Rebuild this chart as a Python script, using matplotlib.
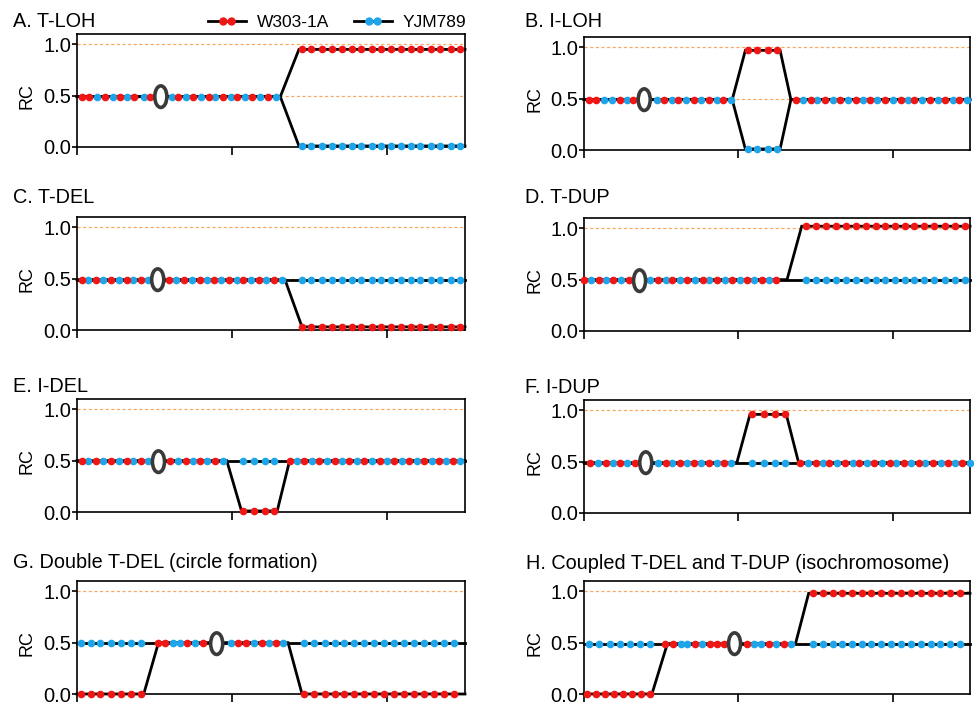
import matplotlib.pyplot as plt
from matplotlib.lines import Line2D
from matplotlib.patches import Ellipse
from matplotlib.path import Path

plt.rcParams['font.family'] = ['Liberation Sans', 'DejaVu Sans']

RED = '#f01616'
BLUE = '#1ea5e9'
W, H = 974, 704

titles = ['A. T-LOH', 'B. I-LOH', 'C. T-DEL', 'D. T-DUP', 'E. I-DEL', 'F. I-DUP',
          'G. Double T-DEL (circle formation)',
          'H. Coupled T-DEL and T-DUP (isochromosome)']
strains = ['W303-1A', 'YJM789']

# x positions in kb along the chromosome (0-250), RC = relative coverage

# A. T-LOH
a_w303_x = [3, 8, 18, 28, 37, 47, 65, 75, 85, 94, 103, 113, 123,
            145, 151, 158, 164, 171, 177, 183, 190, 196, 202, 209, 215, 221, 228, 234, 241, 247]
a_w303_rc = [0.49] * 13 + [0.95] * 17
a_yjm_x = [13, 23, 32, 43, 61, 70, 80, 89, 99, 108, 118, 128,
           145, 151, 158, 164, 171, 177, 183, 190, 196, 202, 209, 215, 221, 228, 234, 241, 247]
a_yjm_rc = [0.49] * 12 + [0.01] * 17
a_w303_line = ([0, 131, 143, 250], [0.49, 0.49, 0.95, 0.95])
a_yjm_line = ([0, 131, 143, 250], [0.49, 0.49, 0.01, 0.01])
a_cen = 54

# B. I-LOH
b_w303_x = [3, 8, 23, 32, 52, 61, 71, 81, 90,
            106, 112, 119, 125,
            137, 147, 156, 166, 176, 185, 195, 205, 214, 224, 234, 243]
b_w303_rc = [0.49] * 9 + [0.97] * 4 + [0.49] * 12
b_yjm_x = [13, 18, 28, 47, 57, 66, 76, 86, 95,
           106, 112, 119, 125,
           142, 151, 161, 171, 181, 190, 200, 210, 219, 229, 239, 248]
b_yjm_rc = [0.49] * 9 + [0.01] * 4 + [0.49] * 12
b_w303_line = ([0, 96, 104.5, 127, 134, 250], [0.49, 0.49, 0.97, 0.97, 0.49, 0.49])
b_yjm_line = ([0, 96, 104.5, 127, 134, 250], [0.49, 0.49, 0.01, 0.01, 0.49, 0.49])
b_cen = 39

# C. T-DEL
c_w303_x = [3, 12, 22, 32, 41, 59, 69, 79, 88, 98, 107, 117, 127,
            145, 151, 158, 164, 171, 177, 183, 190, 196, 202, 209, 215, 221, 228, 234, 241, 247]
c_w303_rc = [0.49] * 13 + [0.03] * 17
c_yjm_x = [7, 17, 27, 36, 46, 64, 74, 84, 93, 103, 112, 122, 132,
           145, 151, 158, 164, 171, 177, 183, 190, 196, 202, 209, 215, 221, 228, 234, 241, 247]
c_yjm_rc = [0.49] * 30
c_w303_line = ([0, 134, 145, 250], [0.49, 0.49, 0.03, 0.03])
c_yjm_line = ([0, 250], [0.49, 0.49])
c_cen = 52

# D. T-DUP
d_w303_x = [0, 9.5, 19, 29, 48, 57, 67, 77, 86, 96, 105.5, 115, 124.5,
            144, 150.5, 157, 163, 170, 176, 182.5, 189, 195, 201.5, 208, 214, 220.5, 227, 233.5, 240, 247]
d_w303_rc = [0.5] * 13 + [1.02] * 17
d_yjm_x = [4.5, 14, 24, 43, 53, 62, 72, 81, 91, 101, 110, 120,
           144, 150.5, 157, 163, 170, 176, 182.5, 189, 195, 201.5, 208, 214, 220.5, 227, 233.5, 240, 247]
d_yjm_rc = [0.5] * 29
d_w303_line = ([0, 131.5, 141, 250], [0.5, 0.5, 1.02, 1.02])
d_yjm_line = ([0, 250], [0.5, 0.5])
d_cen = 36

# E. I-DEL
e_w303_x = [3, 12, 22, 32, 41, 60, 70, 79, 89,
            107, 114, 121, 127,
            137, 146.5, 156, 166, 175.5, 185, 195, 204.5, 214, 223.5, 233, 242]
e_w303_rc = [0.5] * 9 + [0.01] * 4 + [0.5] * 12
e_yjm_x = [7, 17, 27, 36, 46, 65, 75, 84, 94,
           107, 114, 121, 127,
           141.5, 151.5, 161, 170.5, 180.5, 190, 199.5, 209.5, 219, 228.5, 238, 246.5]
e_yjm_rc = [0.5] * 25
e_w303_line = ([0, 96.5, 106, 129, 137, 250], [0.5, 0.5, 0.01, 0.01, 0.5, 0.5])
e_yjm_line = ([0, 250], [0.5, 0.5])
e_cen = 52.5

# F. I-DUP
f_w303_x = [4, 14, 23.5, 33, 53, 62, 71, 81, 90.5,
            109, 116.5, 123.5, 130,
            140, 150, 159, 169, 178, 188, 198, 207, 217, 226, 236, 245]
f_w303_rc = [0.49] * 9 + [0.96] * 4 + [0.49] * 12
f_yjm_x = [9, 18.5, 28, 48, 57, 67, 76, 86, 95,
           109, 116.5, 123.5, 130,
           145, 155, 164, 174, 183, 193, 202, 212, 221, 231, 240, 250]
f_yjm_rc = [0.49] * 25
f_w303_line = ([0, 99, 107.5, 131, 139, 250], [0.49, 0.49, 0.96, 0.96, 0.49, 0.49])
f_yjm_line = ([0, 250], [0.49, 0.49])
f_cen = 40

# G. Double T-DEL
g_w303_x = [2.5, 9, 15, 22, 28.5, 35, 41.5,
            52.5, 57, 71, 81, 104, 109, 119, 128,
            146.5, 153, 159.5, 166, 172, 178.5, 185, 191.5, 198, 204.5, 210.5, 217, 223.5, 230, 236.5, 243]
g_w303_rc = [0.0] * 7 + [0.5] * 8 + [0.0] * 16
g_yjm_x = [2.5, 9, 15, 22, 28.5, 35, 41.5,
           62, 66.5, 76, 99, 114, 123.5, 133,
           146.5, 153, 159.5, 166, 172, 178.5, 185, 191.5, 198, 204.5, 210.5, 217, 223.5, 230, 236.5, 243]
g_yjm_rc = [0.5] * 30
g_w303_line = ([0, 43, 52.5, 136, 145, 250], [0, 0, 0.5, 0.5, 0, 0])
g_yjm_line = ([0, 250], [0.5, 0.5])
g_cen = 90

# H. Coupled T-DEL and T-DUP
h_w303_x = [2, 8, 13.5, 19.5, 25.5, 31, 37, 43,
            52.5, 57.5, 72, 81.5, 86, 90.5, 105.5, 119.5, 129.5,
            148, 154.5, 161, 167, 173.5, 180, 186, 192.5, 199, 205.5, 211.5, 218, 224.5, 230.5, 237, 243.5]
h_w303_rc = [0.0] * 8 + [0.49] * 9 + [0.98] * 16
h_yjm_x = [3.5, 10, 17, 23.5, 30, 36.5, 43,
           62.5, 67, 76.5, 110, 114.5, 124.5, 134,
           148, 154.5, 161, 167, 173.5, 180, 186, 192.5, 199, 205.5, 211.5, 218, 224.5, 230.5, 237, 243.5]
h_yjm_rc = [0.49] * 30
h_w303_line = ([0, 44, 54, 137, 145.5, 250], [0, 0, 0.49, 0.49, 0.98, 0.98])
h_yjm_line = ([0, 250], [0.49, 0.49])
h_cen = 97.5

panels = [
    (a_w303_x, a_w303_rc, a_yjm_x, a_yjm_rc, a_w303_line, a_yjm_line, a_cen),
    (b_w303_x, b_w303_rc, b_yjm_x, b_yjm_rc, b_w303_line, b_yjm_line, b_cen),
    (c_w303_x, c_w303_rc, c_yjm_x, c_yjm_rc, c_w303_line, c_yjm_line, c_cen),
    (d_w303_x, d_w303_rc, d_yjm_x, d_yjm_rc, d_w303_line, d_yjm_line, d_cen),
    (e_w303_x, e_w303_rc, e_yjm_x, e_yjm_rc, e_w303_line, e_yjm_line, e_cen),
    (f_w303_x, f_w303_rc, f_yjm_x, f_yjm_rc, f_w303_line, f_yjm_line, f_cen),
    (g_w303_x, g_w303_rc, g_yjm_x, g_yjm_rc, g_w303_line, g_yjm_line, g_cen),
    (h_w303_x, h_w303_rc, h_yjm_x, h_yjm_rc, h_w303_line, h_yjm_line, h_cen),
]

# layout, in pixels of the 974x704 picture
ax_left = [77, 584]
ax_width = [388, 386]
ax_bottom = [147, 150, 330, 331, 512, 513, 694, 694]
ax_height = 113
title_x = [13, 525, 13, 525, 13, 525, 13, 526]
title_base = [27, 27, 203, 203, 392, 393, 568, 569]

fig = plt.figure(figsize=(W / 100, H / 100), dpi=100)

for i, (wx, wrc, yx, yrc, wline, yline, cen) in enumerate(panels):
    col = i % 2
    ax = fig.add_axes([ax_left[col] / W, 1 - ax_bottom[i] / H,
                       ax_width[col] / W, ax_height / H])
    ax.set_xlim(0, 250)
    ax.set_ylim(0, 1.1)
    for lvl in (0.5, 1.0):
        ax.axhline(lvl, color='#f9a862', lw=0.9, ls=(0, (2.5, 2)), zorder=1)

    ax.plot(*yline, color='black', lw=2, zorder=2, clip_on=False, solid_joinstyle='miter')
    ax.plot(*wline, color='black', lw=2, zorder=2, clip_on=False, solid_joinstyle='miter')
    ax.plot(yx, yrc, 'o', color=BLUE, ms=5.5, mew=0, zorder=3, clip_on=False)
    ax.plot(wx, wrc, 'o', color=RED, ms=5.5, mew=0, zorder=3, clip_on=False)

    ax.add_patch(Ellipse((cen, 0.49), 7.8, 0.21, facecolor='white',
                         edgecolor='#3a3a3a', lw=2.6, zorder=4))

    ax.set_yticks([0, 0.5, 1.0])
    ax.set_yticklabels(['0.0', '0.5', '1.0'])
    ax.set_xticks([0, 100, 200])
    ax.set_xticklabels([])
    ax.tick_params(axis='y', length=3.6, width=1.2, pad=0.8, labelsize=14.5)
    ax.tick_params(axis='x', length=5.8, width=1.2)
    for s in ax.spines.values():
        s.set_linewidth(1.2)
    ax.set_ylabel('RC', fontsize=13)
    ax.yaxis.set_label_coords(-0.108 if col == 0 else -0.104, 0.45)

    fig.text(title_x[i] / W, 1 - title_base[i] / H, titles[i],
             ha='left', va='baseline', fontsize=14.3)

# legend: black line with two coloured dots
two_dots = Path.make_compound_path(Path.circle((-1, 0), 1), Path.circle((1, 0), 1))
handles = [Line2D([], [], color='black', lw=2, marker=two_dots, ms=12,
                  mfc=c, mec=c, mew=0) for c in (RED, BLUE)]
fig.legend(handles, strains, loc='center', bbox_to_anchor=(337 / W, 1 - 22 / H),
           ncol=2, frameon=False, fontsize=12.5, handlelength=2.2,
           handletextpad=0.6, columnspacing=1.4, borderpad=0, borderaxespad=0,
           numpoints=1)

fig.savefig('out.png', dpi=100)
